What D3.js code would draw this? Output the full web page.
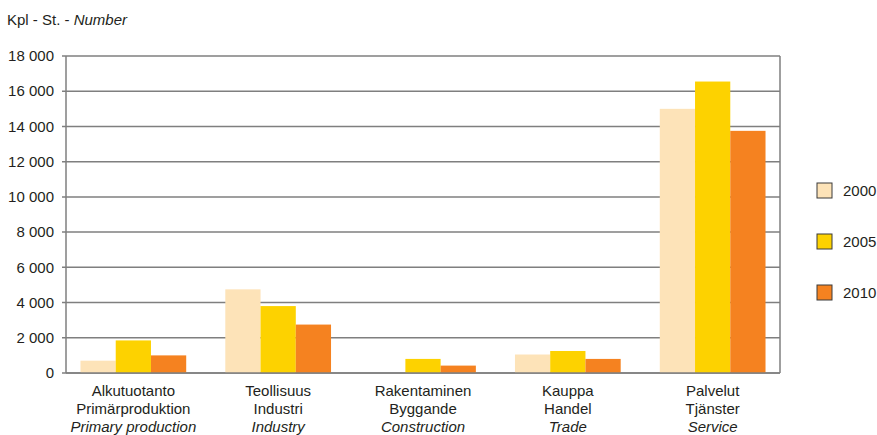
<!DOCTYPE html>
<html>
<head>
<meta charset="utf-8">
<script src="https://cdn.jsdelivr.net/npm/d3@7"></script>
<style>
  html, body { margin: 0; padding: 0; background: #fff; }
  svg { display: block; font-family: "Liberation Sans", Arial, sans-serif; }
</style>
</head>
<body>
<svg id="chart" width="877" height="435"></svg>
<script>
// Categories: Finnish / Swedish / English
const categoriesFi = ["Alkutuotanto", "Teollisuus", "Rakentaminen", "Kauppa", "Palvelut"];
const categoriesSv = ["Primärproduktion", "Industri", "Byggande", "Handel", "Tjänster"];
const categoriesEn = ["Primary production", "Industry", "Construction", "Trade", "Service"];

const years = ["2000", "2005", "2010"];
const values2000 = [700, 4750, 0, 1050, 15000];
const values2005 = [1850, 3800, 800, 1250, 16550];
const values2010 = [1000, 2750, 420, 800, 13750];

const yTicks = [0, 2000, 4000, 6000, 8000, 10000, 12000, 14000, 16000, 18000];
const colors = ["#fde3b8", "#fdd200", "#f58220"];

const series = [values2000, values2005, values2010];

const svg = d3.select("#chart");
const margin = { left: 66, right: 97, top: 56, bottom: 62 };
const width = 877, height = 435;

const x = d3.scaleBand()
  .domain(categoriesFi)
  .range([margin.left, width - margin.right])
  .paddingInner(0.27)
  .paddingOuter(0.1);

const xInner = d3.scaleBand()
  .domain(years)
  .range([0, x.bandwidth()]);

const y = d3.scaleLinear()
  .domain([0, 18000])
  .range([height - margin.bottom, margin.top]);

const fmt = v => d3.format(",")(v).replace(/,/g, " ");

// Gridlines
svg.append("g")
  .selectAll("line")
  .data(yTicks)
  .join("line")
  .attr("x1", margin.left - 4)
  .attr("x2", width - margin.right)
  .attr("y1", d => y(d))
  .attr("y2", d => y(d))
  .attr("stroke", "#7f7f7f")
  .attr("stroke-width", 1.5);

// Bars
const groups = svg.append("g")
  .selectAll("g")
  .data(categoriesFi)
  .join("g")
  .attr("transform", d => `translate(${x(d)},0)`);

groups.selectAll("rect")
  .data((d, i) => series.map((s, k) => ({ year: years[k], value: s[i], k })))
  .join("rect")
  .attr("x", d => xInner(d.year))
  .attr("width", xInner.bandwidth())
  .attr("y", d => y(d.value))
  .attr("height", d => y(0) - y(d.value))
  .attr("fill", d => colors[d.k]);

// Frame: left axis, right edge, baseline
svg.append("line")
  .attr("x1", margin.left).attr("x2", margin.left)
  .attr("y1", y(18000)).attr("y2", y(0))
  .attr("stroke", "#7f7f7f").attr("stroke-width", 1.5);
svg.append("line")
  .attr("x1", width - margin.right).attr("x2", width - margin.right)
  .attr("y1", y(18000)).attr("y2", y(0))
  .attr("stroke", "#7f7f7f").attr("stroke-width", 1.5);
svg.append("line")
  .attr("x1", margin.left).attr("x2", width - margin.right)
  .attr("y1", y(0)).attr("y2", y(0))
  .attr("stroke", "#7f7f7f").attr("stroke-width", 1.5);

// Y tick labels
svg.append("g")
  .selectAll("text")
  .data(yTicks)
  .join("text")
  .attr("x", margin.left - 12)
  .attr("y", d => y(d))
  .attr("dy", "0.35em")
  .attr("text-anchor", "end")
  .attr("font-size", 15)
  .attr("fill", "#231f20")
  .text(fmt);

// Unit title
const title = svg.append("text")
  .attr("x", 7).attr("y", 25)
  .attr("font-size", 15)
  .attr("fill", "#231f20");
title.append("tspan").text("Kpl - St. - ");
title.append("tspan").attr("font-style", "italic").text("Number");

// Category labels
const labels = svg.append("g")
  .selectAll("text")
  .data(categoriesFi)
  .join("text")
  .attr("text-anchor", "middle")
  .attr("font-size", 15)
  .attr("fill", "#231f20");
[categoriesFi, categoriesSv, categoriesEn].forEach((arr, li) => {
  labels.append("tspan")
    .attr("x", d => x(d) + x.bandwidth() / 2)
    .attr("y", 396 + li * 18)
    .attr("font-style", li === 2 ? "italic" : null)
    .text((d, i) => arr[i]);
});

// Legend
const legend = svg.append("g")
  .selectAll("g")
  .data(years)
  .join("g")
  .attr("transform", (d, i) => `translate(817,${183 + i * 51})`);
legend.append("rect")
  .attr("width", 15).attr("height", 15)
  .attr("fill", (d, i) => colors[i])
  .attr("stroke", "#3a3a3a").attr("stroke-width", 1);
legend.append("text")
  .attr("x", 26).attr("y", 8)
  .attr("dy", "0.35em")
  .attr("font-size", 15)
  .attr("fill", "#231f20")
  .text(d => d);
</script>
</body>
</html>
